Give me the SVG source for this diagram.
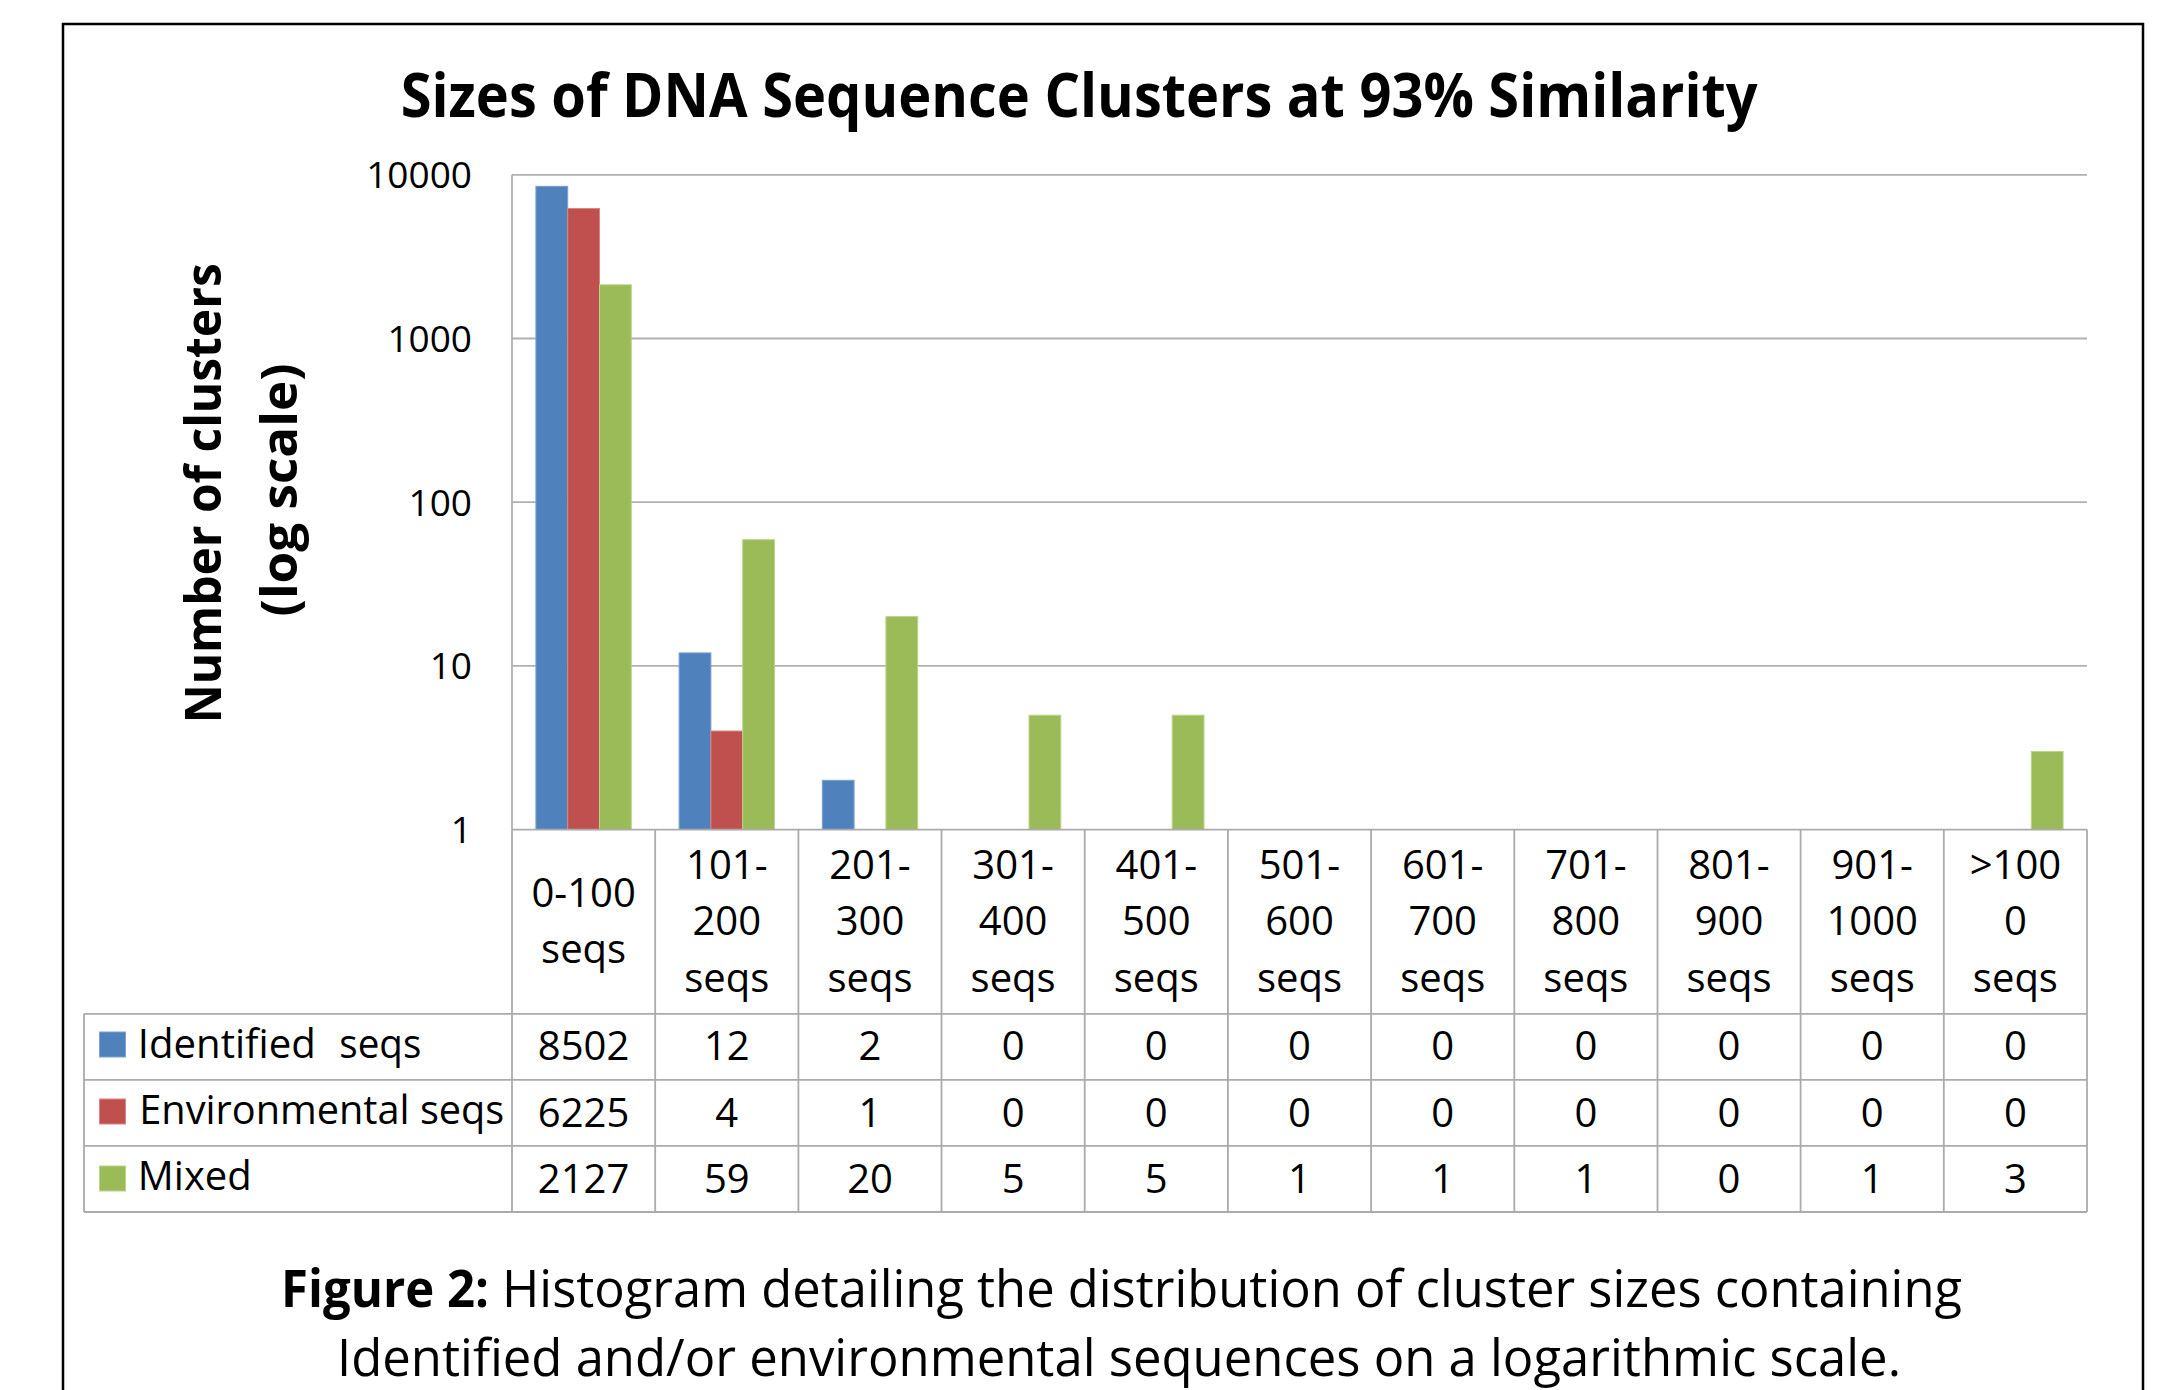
<svg xmlns="http://www.w3.org/2000/svg" width="2157" height="1390" viewBox="0 0 2157 1390">
  <style>
    .t { font-family: "Open Sans", "Liberation Sans", sans-serif; fill: #000; }
    .b { font-weight: bold; }
    .ax { font-size: 37px; text-anchor: end; }
    .cell { font-size: 40px; text-anchor: middle; }
    .lab { font-size: 40px; }
    .cap { font-size: 51.5px; }
    .grid { stroke: #B0B0B0; stroke-width: 1.8; fill: none; }
    .tbl { stroke: #ABABAB; stroke-width: 1.8; fill: none; }
    .s1 { fill: #4F81BD; stroke: #7EA1CF; stroke-width: 1; }
    .s2 { fill: #C0504D; stroke: #D88583; stroke-width: 1; }
    .s3 { fill: #9BBB59; stroke: #BBD48A; stroke-width: 1; }
  </style>

  <rect x="0" y="0" width="2157" height="1390" fill="#fff"/>

  <!-- figure frame (bottom edge runs past the page) -->
  <rect id="frame" x="63" y="24" width="2080" height="1420" fill="none" stroke="#000" stroke-width="2.5"/>

  <!-- chart title -->
  <g id="title">
    <text class="t b" x="400.7" y="117" font-size="60" textLength="1357" lengthAdjust="spacingAndGlyphs">Sizes of DNA Sequence Clusters at 93% Similarity</text>
  </g>

  <!-- value axis title -->
  <g id="y-title">
    <text class="t b" font-size="51" text-anchor="middle" transform="translate(221,493.3) rotate(-90)" textLength="460" lengthAdjust="spacingAndGlyphs">Number of clusters</text>
    <text class="t b" font-size="51" text-anchor="middle" transform="translate(297,490) rotate(-90)" textLength="253" lengthAdjust="spacingAndGlyphs">(log scale)</text>
  </g>

  <!-- gridlines and axes -->
  <g id="grid">
    <line class="grid" x1="512" y1="174.8" x2="2087" y2="174.8"/>
    <line class="grid" x1="512" y1="338.5" x2="2087" y2="338.5"/>
    <line class="grid" x1="512" y1="502.2" x2="2087" y2="502.2"/>
    <line class="grid" x1="512" y1="665.9" x2="2087" y2="665.9"/>
  </g>

  <g id="y-labels">
    <text class="t ax" x="472" y="188.3">10000</text>
    <text class="t ax" x="472" y="352">1000</text>
    <text class="t ax" x="472" y="515.7">100</text>
    <text class="t ax" x="472" y="679.4">10</text>
    <text class="t ax" x="472" y="843.1">1</text>
  </g>

  <!-- bars: Identified (blue), Environmental (red), Mixed (green) -->
  <g id="bars">
    <rect class="s1" x="535.9" y="186.3" width="31.8" height="643.3"/>
    <rect class="s2" x="567.7" y="208.5" width="31.8" height="621.1"/>
    <rect class="s3" x="599.5" y="284.8" width="31.8" height="544.8"/>

    <rect class="s1" x="679.1" y="652.9" width="31.8" height="176.7"/>
    <rect class="s2" x="710.9" y="731.0" width="31.8" height="98.6"/>
    <rect class="s3" x="742.7" y="539.7" width="31.8" height="289.9"/>

    <rect class="s1" x="822.3" y="780.3" width="31.8" height="49.3"/>
    <rect class="s3" x="885.9" y="616.6" width="31.8" height="213.0"/>

    <rect class="s3" x="1029.0" y="715.2" width="31.8" height="114.4"/>
    <rect class="s3" x="1172.2" y="715.2" width="31.8" height="114.4"/>

    <rect class="s3" x="2031.3" y="751.5" width="31.8" height="78.1"/>
  </g>

  <!-- data table -->
  <g id="table">
    <line class="grid" x1="512" y1="174.8" x2="512" y2="829.6"/>
    <path class="tbl" d="M512 829.6 H2087 M84 1013.8 H2087 M84 1079.8 H2087 M84 1145.9 H2087 M84 1212 H2087"/>
    <path class="tbl" d="M84 1013.8 V1212 M512 829.6 V1212 M655.2 829.6 V1212 M798.4 829.6 V1212 M941.5 829.6 V1212 M1084.7 829.6 V1212 M1227.9 829.6 V1212 M1371.1 829.6 V1212 M1514.3 829.6 V1212 M1657.5 829.6 V1212 M1800.6 829.6 V1212 M1943.8 829.6 V1212 M2087 829.6 V1212"/>
  </g>

  <g id="categories">
    <text class="t cell" x="583.6" y="906.7">0-100</text>
    <text class="t cell" x="583.6" y="963.3">seqs</text>

    <text class="t cell" x="726.8" y="879">101-</text>
    <text class="t cell" x="726.8" y="935.3">200</text>
    <text class="t cell" x="726.8" y="991.7">seqs</text>

    <text class="t cell" x="870" y="879">201-</text>
    <text class="t cell" x="870" y="935.3">300</text>
    <text class="t cell" x="870" y="991.7">seqs</text>

    <text class="t cell" x="1013.1" y="879">301-</text>
    <text class="t cell" x="1013.1" y="935.3">400</text>
    <text class="t cell" x="1013.1" y="991.7">seqs</text>

    <text class="t cell" x="1156.3" y="879">401-</text>
    <text class="t cell" x="1156.3" y="935.3">500</text>
    <text class="t cell" x="1156.3" y="991.7">seqs</text>

    <text class="t cell" x="1299.5" y="879">501-</text>
    <text class="t cell" x="1299.5" y="935.3">600</text>
    <text class="t cell" x="1299.5" y="991.7">seqs</text>

    <text class="t cell" x="1442.7" y="879">601-</text>
    <text class="t cell" x="1442.7" y="935.3">700</text>
    <text class="t cell" x="1442.7" y="991.7">seqs</text>

    <text class="t cell" x="1585.9" y="879">701-</text>
    <text class="t cell" x="1585.9" y="935.3">800</text>
    <text class="t cell" x="1585.9" y="991.7">seqs</text>

    <text class="t cell" x="1729" y="879">801-</text>
    <text class="t cell" x="1729" y="935.3">900</text>
    <text class="t cell" x="1729" y="991.7">seqs</text>

    <text class="t cell" x="1872.2" y="879">901-</text>
    <text class="t cell" x="1872.2" y="935.3">1000</text>
    <text class="t cell" x="1872.2" y="991.7">seqs</text>

    <text class="t cell" x="2015.4" y="879">&gt;100</text>
    <text class="t cell" x="2015.4" y="935.3">0</text>
    <text class="t cell" x="2015.4" y="991.7">seqs</text>
  </g>

  <!-- series legend keys and names -->
  <g id="legend">
    <rect class="s1" x="99.5" y="1032" width="26" height="25"/>
    <rect class="s2" x="99.5" y="1099" width="26" height="25"/>
    <rect class="s3" x="99.5" y="1166" width="26" height="25"/>
    <text class="t lab" x="137.8" y="1057.5" textLength="178" lengthAdjust="spacingAndGlyphs">Identified</text>
    <text class="t lab" x="339.3" y="1057.5" textLength="82" lengthAdjust="spacingAndGlyphs">seqs</text>
    <text class="t lab" x="139.3" y="1124" textLength="365" lengthAdjust="spacingAndGlyphs">Environmental seqs</text>
    <text class="t lab" x="137.8" y="1190" textLength="114" lengthAdjust="spacingAndGlyphs">Mixed</text>
  </g>

  <g id="row-identified">
    <text class="t cell" x="583.6" y="1060">8502</text>
    <text class="t cell" x="726.8" y="1060">12</text>
    <text class="t cell" x="870" y="1060">2</text>
    <text class="t cell" x="1013.1" y="1060">0</text>
    <text class="t cell" x="1156.3" y="1060">0</text>
    <text class="t cell" x="1299.5" y="1060">0</text>
    <text class="t cell" x="1442.7" y="1060">0</text>
    <text class="t cell" x="1585.9" y="1060">0</text>
    <text class="t cell" x="1729" y="1060">0</text>
    <text class="t cell" x="1872.2" y="1060">0</text>
    <text class="t cell" x="2015.4" y="1060">0</text>
  </g>

  <g id="row-environmental">
    <text class="t cell" x="583.6" y="1126.5">6225</text>
    <text class="t cell" x="726.8" y="1126.5">4</text>
    <text class="t cell" x="870" y="1126.5">1</text>
    <text class="t cell" x="1013.1" y="1126.5">0</text>
    <text class="t cell" x="1156.3" y="1126.5">0</text>
    <text class="t cell" x="1299.5" y="1126.5">0</text>
    <text class="t cell" x="1442.7" y="1126.5">0</text>
    <text class="t cell" x="1585.9" y="1126.5">0</text>
    <text class="t cell" x="1729" y="1126.5">0</text>
    <text class="t cell" x="1872.2" y="1126.5">0</text>
    <text class="t cell" x="2015.4" y="1126.5">0</text>
  </g>

  <g id="row-mixed">
    <text class="t cell" x="583.6" y="1192.7">2127</text>
    <text class="t cell" x="726.8" y="1192.7">59</text>
    <text class="t cell" x="870" y="1192.7">20</text>
    <text class="t cell" x="1013.1" y="1192.7">5</text>
    <text class="t cell" x="1156.3" y="1192.7">5</text>
    <text class="t cell" x="1299.5" y="1192.7">1</text>
    <text class="t cell" x="1442.7" y="1192.7">1</text>
    <text class="t cell" x="1585.9" y="1192.7">1</text>
    <text class="t cell" x="1729" y="1192.7">0</text>
    <text class="t cell" x="1872.2" y="1192.7">1</text>
    <text class="t cell" x="2015.4" y="1192.7">3</text>
  </g>

  <!-- figure caption -->
  <g id="caption">
    <text class="t cap b" x="281" y="1306.8" textLength="208" lengthAdjust="spacingAndGlyphs">Figure 2:</text>
    <text class="t cap" x="502" y="1306.8" textLength="1460" lengthAdjust="spacingAndGlyphs">Histogram detailing the distribution of cluster sizes containing</text>
    <text class="t cap" x="337" y="1375.6" textLength="1564" lengthAdjust="spacingAndGlyphs">Identified and/or environmental sequences on a logarithmic scale.</text>
  </g>
</svg>
